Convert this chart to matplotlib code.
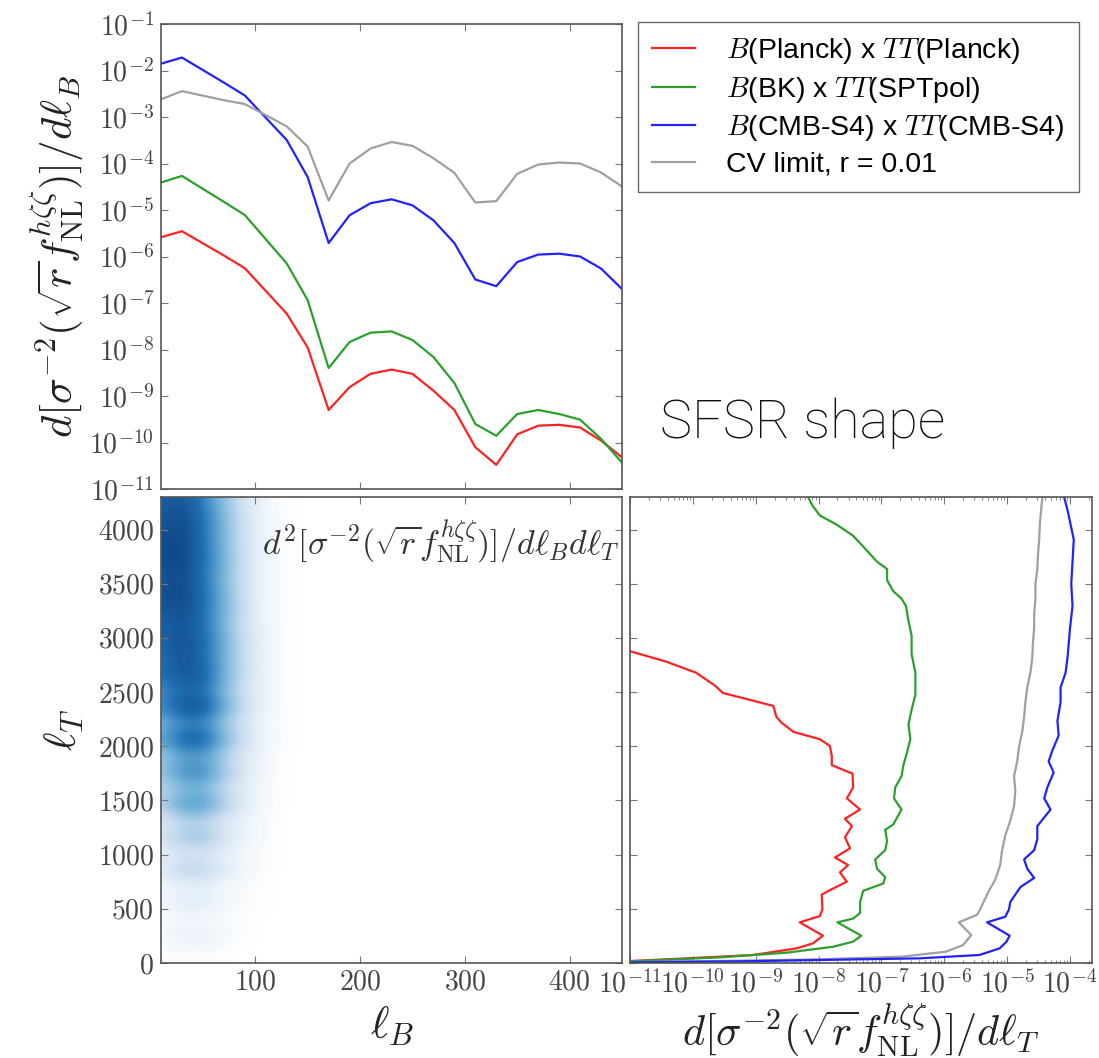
import numpy as np
import matplotlib
matplotlib.use("Agg")
import matplotlib.pyplot as plt
from matplotlib.colors import LinearSegmentedColormap
from matplotlib.ticker import FixedLocator, FuncFormatter, LogLocator, NullFormatter, NullLocator

plt.rcParams['mathtext.fontset'] = 'cm'
plt.rcParams['font.family'] = ['Liberation Sans', 'DejaVu Sans']

# ---- top panel: d sigma^-2 / d l_B ----
lB = [10, 30, 70, 90, 130, 150, 170, 190, 210, 230, 250, 270, 290, 310, 330,
      350, 370, 390, 410, 430, 450]
planck = [2.6e-6, 3.5e-6, 1.05e-6, 5.6e-7, 5.9e-8, 1.1e-8, 5e-10, 1.55e-9, 3e-9,
          3.7e-9, 3e-9, 1.3e-9, 5e-10, 7.9e-11, 3.3e-11, 1.5e-10, 2.3e-10,
          2.4e-10, 2.1e-10, 1.1e-10, 4.8e-11]
bk = [3.9e-5, 5.4e-5, 1.5e-5, 7.8e-6, 7.1e-7, 1.15e-7, 4e-9, 1.45e-8, 2.3e-8,
      2.45e-8, 1.6e-8, 6.9e-9, 1.9e-9, 2.5e-10, 1.4e-10, 4.1e-10, 5e-10,
      4.1e-10, 3.1e-10, 1.2e-10, 3.7e-11]
s4 = [1.4e-2, 1.9e-2, 5.5e-3, 2.9e-3, 3.2e-4, 5.1e-5, 1.95e-6, 7.7e-6, 1.4e-5,
      1.7e-5, 1.26e-5, 6e-6, 1.95e-6, 3.2e-7, 2.3e-7, 7.6e-7, 1.1e-6, 1.15e-6,
      1e-6, 5.5e-7, 2e-7]
cv = [2.4e-3, 3.6e-3, 2.3e-3, 1.9e-3, 6.3e-4, 2.3e-4, 1.6e-5, 1.0e-4, 2.1e-4,
      2.9e-4, 2.4e-4, 1.3e-4, 6.3e-5, 1.45e-5, 1.55e-5, 6e-5, 9.5e-5, 1.05e-4,
      1e-4, 6.4e-5, 3.2e-5]

# ---- right panel: d sigma^-2 / d l_T (log10 of value) ----
red_lT = [2, 18, 43, 74, 135, 181, 252, 375, 433, 495, 631, 672, 751, 836, 904,
          973, 1058, 1160, 1263, 1331, 1416, 1519, 1621, 1747, 1826, 1911, 2003,
          2065, 2133, 2218, 2270, 2372, 2413, 2491, 2560, 2679, 2782, 2874, 2900]
red_log = [-12, -11.0, -10.10, -9.04, -8.35, -8.09, -7.93, -8.30, -7.98, -7.94,
           -7.95, -7.82, -7.55, -7.66, -7.53, -7.74, -7.50, -7.58, -7.47, -7.58,
           -7.34, -7.55, -7.45, -7.46, -7.79, -7.79, -7.82, -7.98, -8.40, -8.59,
           -8.67, -8.72, -8.99, -9.52, -9.65, -9.95, -10.43, -10.98, -11.15]

green_lT = [2, 18, 52, 95, 150, 197, 252, 375, 410, 461, 563, 666, 734, 792, 870,
            956, 1041, 1126, 1229, 1280, 1416, 1519, 1621, 1724, 1826, 1928, 2065,
            2201, 2338, 2474, 2679, 2850, 3020, 3157, 3294, 3362, 3430, 3532, 3635,
            3703, 3805, 3942, 4044, 4130, 4215, 4290]
green_log = [-12, -10.9, -9.57, -8.51, -7.77, -7.45, -7.32, -7.70, -7.45, -7.34,
             -7.34, -7.29, -6.97, -6.94, -7.07, -7.10, -6.94, -6.91, -6.94, -6.81,
             -6.68, -6.80, -6.78, -6.68, -6.65, -6.60, -6.54, -6.57, -6.52, -6.46,
             -6.46, -6.52, -6.52, -6.57, -6.61, -6.68, -6.81, -6.91, -6.91, -7.07,
             -7.23, -7.45, -7.71, -7.98, -8.09, -8.16]

gray_lT = [2, 15, 34, 59, 105, 166, 258, 375, 444, 495, 666, 768, 904, 1041, 1177,
           1314, 1450, 1587, 1724, 1860, 1997, 2133, 2270, 2406, 2543, 2679, 2816,
           2952, 3089, 3225, 3362, 3498, 3635, 3771, 3908, 4044, 4181, 4290]
gray_log = [-12, -10.0, -7.98, -6.66, -5.97, -5.70, -5.57, -5.77, -5.48, -5.43,
            -5.29, -5.19, -5.11, -5.08, -5.03, -4.95, -4.89, -4.87, -4.89, -4.84,
            -4.81, -4.76, -4.73, -4.71, -4.68, -4.63, -4.60, -4.59, -4.57, -4.57,
            -4.55, -4.55, -4.52, -4.51, -4.49, -4.48, -4.46, -4.44]

blue_lT = [2, 15, 43, 74, 135, 197, 252, 375, 427, 495, 563, 700, 785, 870, 956,
           1041, 1143, 1263, 1416, 1519, 1621, 1758, 1860, 1962, 2099, 2235, 2406,
           2543, 2679, 2816, 2952, 3089, 3294, 3498, 3703, 3908, 4044, 4181, 4290]
blue_log = [-12, -9.3, -6.39, -5.44, -5.12, -5.01, -4.96, -5.32, -5.03, -4.97,
            -4.95, -4.79, -4.57, -4.68, -4.73, -4.57, -4.52, -4.52, -4.31, -4.41,
            -4.36, -4.26, -4.34, -4.28, -4.18, -4.20, -4.15, -4.15, -4.07, -4.04,
            -4.02, -4.00, -3.96, -3.98, -3.96, -3.94, -3.99, -4.04, -4.09]

# ---- 2D density (relative units), rows = l_T bins, cols = l_B bins ----
map_lB = [10, 30, 50, 70, 90, 110, 130]
map_lT = np.arange(-40, 4311, 150)
heat = np.array([
    [0.00, 0.00, 0.00, 0.00, 0.00, 0.00, 0.00],
    [0.02, 0.03, 0.03, 0.01, 0.00, 0.00, 0.00],
    [0.05, 0.10, 0.11, 0.05, 0.02, 0.00, 0.00],
    [0.02, 0.04, 0.04, 0.02, 0.01, 0.00, 0.00],
    [0.06, 0.13, 0.14, 0.07, 0.03, 0.01, 0.00],
    [0.04, 0.07, 0.08, 0.04, 0.02, 0.00, 0.00],
    [0.14, 0.28, 0.30, 0.15, 0.07, 0.02, 0.00],
    [0.08, 0.14, 0.15, 0.08, 0.04, 0.01, 0.00],
    [0.18, 0.35, 0.38, 0.20, 0.09, 0.03, 0.00],
    [0.12, 0.22, 0.24, 0.13, 0.06, 0.02, 0.00],
    [0.30, 0.56, 0.60, 0.32, 0.14, 0.04, 0.00],
    [0.22, 0.38, 0.40, 0.22, 0.10, 0.03, 0.00],
    [0.36, 0.62, 0.65, 0.36, 0.16, 0.05, 0.00],
    [0.30, 0.48, 0.50, 0.28, 0.12, 0.04, 0.00],
    [0.52, 0.82, 0.84, 0.46, 0.21, 0.07, 0.01],
    [0.40, 0.58, 0.60, 0.33, 0.15, 0.05, 0.00],
    [0.62, 0.88, 0.88, 0.50, 0.22, 0.07, 0.01],
    [0.56, 0.75, 0.72, 0.40, 0.18, 0.06, 0.01],
    [0.72, 0.88, 0.82, 0.47, 0.21, 0.07, 0.01],
    [0.72, 0.86, 0.75, 0.44, 0.20, 0.06, 0.01],
    [0.78, 0.90, 0.78, 0.46, 0.21, 0.07, 0.01],
    [0.76, 0.86, 0.73, 0.42, 0.19, 0.06, 0.01],
    [0.84, 0.92, 0.75, 0.44, 0.20, 0.06, 0.01],
    [0.88, 0.95, 0.75, 0.44, 0.19, 0.06, 0.01],
    [0.84, 0.92, 0.71, 0.42, 0.18, 0.06, 0.01],
    [0.90, 0.96, 0.75, 0.44, 0.19, 0.06, 0.01],
    [0.90, 0.95, 0.73, 0.42, 0.18, 0.06, 0.01],
    [0.86, 0.93, 0.73, 0.42, 0.18, 0.06, 0.01],
    [0.84, 0.91, 0.71, 0.40, 0.17, 0.05, 0.01],
    [0.76, 0.86, 0.65, 0.37, 0.16, 0.05, 0.01],
])

labels = [r'$B$(Planck) x $TT$(Planck)', r'$B$(BK) x $TT$(SPTpol)',
          r'$B$(CMB-S4) x $TT$(CMB-S4)', 'CV limit, r = 0.01']
colors = ['#ff2222', '#2ca02c', '#2222ff', '#a0a0a0']

label_B = r'$d[\sigma^{-2}(\sqrt{r}f_{\rm NL}^{h\zeta\zeta})]/d\ell_B$'
label_T = r'$d[\sigma^{-2}(\sqrt{r}f_{\rm NL}^{h\zeta\zeta})]/d\ell_T$'
label_BT = r'$d^2[\sigma^{-2}(\sqrt{r}f_{\rm NL}^{h\zeta\zeta})]/d\ell_Bd\ell_T$'


def dec_fmt(v, pos):
    return r'$10^{%d}$' % int(round(np.log10(v)))


def lin_fmt(v, pos):
    return r'$%d$' % v


def style(ax):
    for s in ax.spines.values():
        s.set_color('#555555')
        s.set_linewidth(1.2)
    ax.tick_params(which='both', direction='in', top=True, right=True,
                   color='#777777', labelcolor='#444444', labelsize=20, pad=5)
    ax.tick_params(which='major', length=5)
    ax.tick_params(which='minor', length=2.5)


fig = plt.figure(figsize=(10.99, 10.58), dpi=100)
W, H = 1099.0, 1058.0
ax_top = fig.add_axes([161 / W, 1 - 489 / H, 461 / W, 465 / H])
ax_map = fig.add_axes([161 / W, 1 - 963 / H, 461 / W, 466 / H])
ax_side = fig.add_axes([630 / W, 1 - 963 / H, 462 / W, 466 / H])

# top panel
lines = []
for y, c in zip([planck, bk, s4, cv], colors):
    ln, = ax_top.plot(lB, y, color=c, lw=1.6)
    lines.append(ln)
ax_top.set_yscale('log')
ax_top.set_xlim(10, 450)
ax_top.set_ylim(1e-11, 1e-1)
ax_top.yaxis.set_major_locator(FixedLocator([10.0 ** k for k in range(-11, 0)]))
ax_top.yaxis.set_major_formatter(FuncFormatter(dec_fmt))
ax_top.yaxis.set_minor_locator(NullLocator())
ax_top.xaxis.set_major_locator(FixedLocator([100, 200, 300, 400]))
ax_top.xaxis.set_major_formatter(NullFormatter())
style(ax_top)
ax_top.set_ylabel(label_B, fontsize=31, color='#222222', labelpad=2)

# heat map
cmap = LinearSegmentedColormap.from_list(
    'wb', ['#ffffff', '#c6dbef', '#6baed6', '#2171b5', '#0f4584'])
dx = map_lB[1] - map_lB[0]
dy = map_lT[1] - map_lT[0]
ax_map.imshow(heat, origin='lower', aspect='auto', cmap=cmap, vmin=0, vmax=0.95,
              interpolation='bicubic',
              extent=[map_lB[0] - dx / 2, map_lB[-1] + dx / 2,
                      map_lT[0] - dy / 2, map_lT[-1] + dy / 2])
ax_map.set_xlim(10, 450)
ax_map.set_ylim(0, 4300)
ax_map.xaxis.set_major_locator(FixedLocator([100, 200, 300, 400]))
ax_map.yaxis.set_major_locator(FixedLocator(np.arange(0, 4001, 500)))
ax_map.xaxis.set_major_formatter(FuncFormatter(lin_fmt))
ax_map.yaxis.set_major_formatter(FuncFormatter(lin_fmt))
style(ax_map)
ax_map.set_xlabel(r'$\ell_B$', fontsize=32, color='#222222', labelpad=6)
ax_map.set_ylabel(r'$\ell_T$', fontsize=32, color='#222222', labelpad=8)
ax_map.text(0.995, 0.905, label_BT, transform=ax_map.transAxes, ha='right',
            va='center', fontsize=24.5, color='#333333')

# side panel
for xs, ys, c in [(red_lT, red_log, colors[0]), (green_lT, green_log, colors[1]),
                  (gray_lT, gray_log, colors[3]), (blue_lT, blue_log, colors[2])]:
    ax_side.plot(10.0 ** np.array(ys), xs, color=c, lw=1.6)
ax_side.set_xscale('log')
ax_side.set_xlim(1e-11, 10 ** -3.65)
ax_side.set_ylim(0, 4300)
ax_side.xaxis.set_major_locator(FixedLocator([10.0 ** k for k in range(-11, -3)]))
ax_side.xaxis.set_major_formatter(FuncFormatter(dec_fmt))
ax_side.xaxis.set_minor_locator(LogLocator(base=10, subs=np.arange(2, 10), numticks=20))
ax_side.xaxis.set_minor_formatter(NullFormatter())
ax_side.yaxis.set_major_locator(FixedLocator(np.arange(0, 4001, 500)))
ax_side.yaxis.set_major_formatter(NullFormatter())
style(ax_side)
ax_side.set_xlabel(label_T, fontsize=30.5, color='#222222', labelpad=2)

# legend and shape tag
fig.legend(lines, labels, loc='upper left', bbox_to_anchor=(638 / W, 1 - 22 / H),
           borderaxespad=0, fontsize=20.5, frameon=True, fancybox=False,
           edgecolor='#444444', borderpad=0.5, handlelength=1.5,
           labelspacing=0.3, handletextpad=1.1)
fig.text(660 / W, 1 - 438 / H, 'SFSR shape', fontsize=39, family='Roboto',
         weight='light', color='#111111', va='baseline')

fig.savefig('out.png', dpi=100)
